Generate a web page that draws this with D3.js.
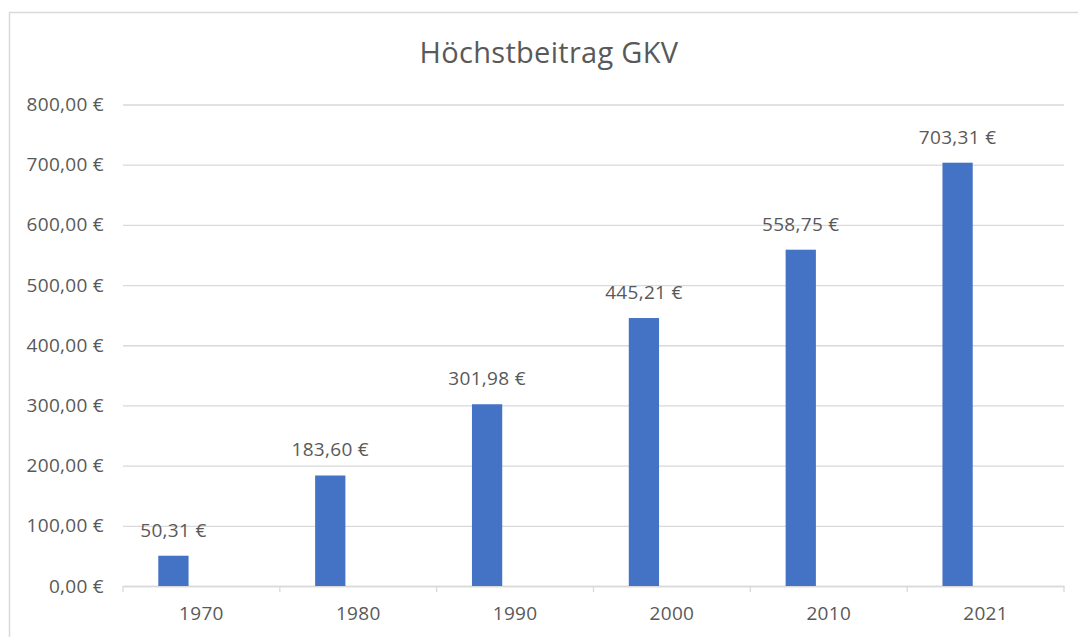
<!DOCTYPE html>
<html><head><meta charset="utf-8">
<script src="https://cdn.jsdelivr.net/npm/d3@7"></script>
<style>body{margin:0;background:#fff;}svg{display:block;}text{font-family:"Open Sans","Liberation Sans",sans-serif;fill:#595959;}</style>
</head><body>
<script>
const categories = ["1970","1980","1990","2000","2010","2021"];
const values = [50.31, 183.60, 301.98, 445.21, 558.75, 703.31];
const yTicks = [0,100,200,300,400,500,600,700,800];
const title = "Höchstbeitrag GKV";

(function(){
const W = 1078, H = 637;
const svg = d3.select("body").append("svg").attr("width", W).attr("height", H);
svg.append("rect").attr("x", 9.5).attr("y", 12.5).attr("width", W).attr("height", H)
  .attr("fill", "#fff").attr("stroke", "#d9d9d9").attr("stroke-width", 1.5);

const mLeft = 123, mRight = 1064, mTop = 104.5, mBottom = 586;
const x = d3.scaleBand().domain(categories).range([mLeft, mRight]).padding(0);
const y = d3.scaleLinear().domain([0, 800]).range([mBottom, mTop]);
const fmt = v => d3.format(",.2f")(v).replace(/,/g, "X").replace(".", ",").replace(/X/g, ".") + " €";
const fs = "19px", ls = "0.3px";

svg.append("text").attr("x", 549).attr("y", 63).attr("text-anchor", "middle")
  .style("font-size", "29px").style("letter-spacing", "0.3px").text(title);

const yAxis = svg.append("g").attr("transform", `translate(${mLeft},0)`)
  .call(d3.axisLeft(y).tickValues(yTicks).tickSize(-(mRight - mLeft)).tickPadding(19).tickFormat(fmt));
yAxis.select(".domain").remove();
yAxis.selectAll(".tick line").attr("stroke", "#d9d9d9").attr("stroke-width", 1.3);
yAxis.selectAll(".tick text").style("font-size", fs).style("letter-spacing", ls).attr("fill", "#595959");

const xAxis = svg.append("g").attr("transform", `translate(0,${mBottom})`)
  .call(d3.axisBottom(x).tickSize(0).tickPadding(21));
xAxis.select(".domain").attr("stroke", "#d9d9d9").attr("stroke-width", 1.3);
xAxis.selectAll(".tick text").style("font-size", fs).style("letter-spacing", ls).attr("fill", "#595959");
const edges = categories.map(c => x(c)).concat([mRight]);
svg.append("g").selectAll("line").data(edges).join("line")
  .attr("x1", d => d).attr("x2", d => d).attr("y1", mBottom).attr("y2", mBottom + 6)
  .attr("stroke", "#d9d9d9").attr("stroke-width", 1.3);

const bw = x.bandwidth();
const barX = c => x(c) + bw * 0.225;
const barW = bw * 0.193;
svg.append("g").selectAll("rect").data(values).join("rect")
  .attr("x", (d, i) => barX(categories[i])).attr("width", barW)
  .attr("y", d => y(d)).attr("height", d => y(0) - y(d)).attr("fill", "#4472c4");

svg.append("g").selectAll("text").data(values).join("text")
  .attr("x", (d, i) => barX(categories[i]) + barW / 2).attr("y", d => y(d) - 19)
  .attr("text-anchor", "middle").style("font-size", fs).style("letter-spacing", ls).text(d => fmt(d));
})();
</script>
</body></html>
